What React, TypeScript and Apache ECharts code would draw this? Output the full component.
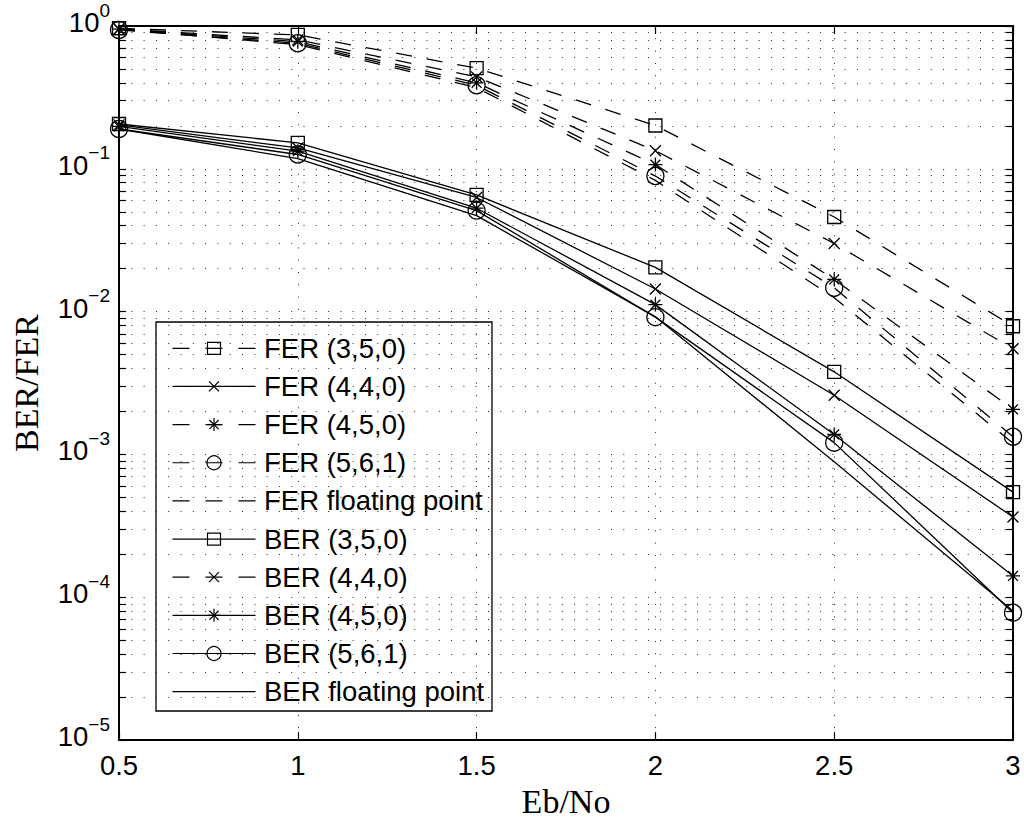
import React, { useEffect, useRef } from "react";
import * as echarts from "echarts";

// ---- data ----
const ebNo = [0.5, 1, 1.5, 2, 2.5, 3];
const ferQ350 = [0.964, 0.866, 0.507, 0.201, 0.046, 0.0079];
const ferQ440 = [0.955, 0.8, 0.44, 0.134, 0.03, 0.0055];
const ferQ450 = [0.95, 0.777, 0.4, 0.107, 0.0168, 0.00207];
const ferQ561 = [0.938, 0.757, 0.385, 0.089, 0.0147, 0.00133];
const ferFloat = [0.95, 0.74, 0.37, 0.083, 0.0125, 0.0012];
const berQ350 = [0.206, 0.152, 0.0656, 0.0204, 0.00379, 0.000545];
const berQ440 = [0.203, 0.14, 0.063, 0.0144, 0.0026, 0.000365];
const berQ450 = [0.198, 0.133, 0.053, 0.0112, 0.00138, 0.000141];
const berQ561 = [0.19, 0.126, 0.051, 0.00915, 0.00121, 0.000078];
const berFloat = [0.19, 0.118, 0.047, 0.0092, 0.00089, 0.00008];

const seriesNames = [
  "FER (3,5,0)",
  "FER (4,4,0)",
  "FER (4,5,0)",
  "FER (5,6,1)",
  "FER floating point",
  "BER (3,5,0)",
  "BER (4,4,0)",
  "BER (4,5,0)",
  "BER (5,6,1)",
  "BER floating point",
];
const seriesValues = [ferQ350, ferQ440, ferQ450, ferQ561, ferFloat, berQ350, berQ440, berQ450, berQ561, berFloat];
const seriesMarkers = ["square", "cross", "star", "circle", "none", "square", "cross", "star", "circle", "none"];
const plotDashed = [true, true, true, true, true, false, false, false, false, false];
const legendDashed = [true, false, true, true, true, false, true, false, false, false];

const xTicks = [0.5, 1, 1.5, 2, 2.5, 3];
const yDecadeExps = [-5, -4, -3, -2, -1, 0];
const yMinorMultipliers = [1, 2, 3, 4, 5, 6, 7, 8, 9];

// ---- styling helpers ----
const BLACK = "#000";
const SANS = '"Liberation Sans", Arial, Helvetica, sans-serif';
const SERIF = '"Liberation Serif", "Times New Roman", serif';
const FONT_SIZE = 27.5;
const DOTTED = [1, 11.3];
const PLOT_DASH = [16, 15];
const LEGEND_DASH = [17, 16];

const symbolFor: Record<string, { symbol: string; size: number }> = {
  square: { symbol: "rect", size: 13 },
  cross: { symbol: "path://M0 0L10 10M10 0L0 10", size: 11 },
  star: { symbol: "path://M5 0L5 10M0 5L10 5M1.5 1.5L8.5 8.5M8.5 1.5L1.5 8.5", size: 14 },
  circle: { symbol: "circle", size: 17 },
  none: { symbol: "none", size: 0 },
};

// log positions of all decade + minor grid values (for the grid/tick axis)
const logGridValues: number[] = [];
for (const e of yDecadeExps) {
  if (e === 0) {
    logGridValues.push(0);
    continue;
  }
  for (const m of yMinorMultipliers) logGridValues.push(Math.log10(m * Math.pow(10, e)));
}

function markerGraphic(kind: string, cx: number, cy: number): any[] {
  const st = { fill: "none", stroke: BLACK, lineWidth: 1.2 };
  if (kind === "square") {
    return [{ type: "rect", shape: { x: cx - 6.5, y: cy - 6, width: 13, height: 12 }, style: st }];
  }
  if (kind === "circle") {
    return [{ type: "circle", shape: { cx, cy, r: 7 }, style: st }];
  }
  if (kind === "cross") {
    return [
      { type: "line", shape: { x1: cx - 5, y1: cy - 5, x2: cx + 5, y2: cy + 5 }, style: st },
      { type: "line", shape: { x1: cx + 5, y1: cy - 5, x2: cx - 5, y2: cy + 5 }, style: st },
    ];
  }
  if (kind === "star") {
    return [
      { type: "line", shape: { x1: cx, y1: cy - 6.5, x2: cx, y2: cy + 6.5 }, style: st },
      { type: "line", shape: { x1: cx - 6.5, y1: cy, x2: cx + 6.5, y2: cy }, style: st },
      { type: "line", shape: { x1: cx - 4.6, y1: cy - 4.6, x2: cx + 4.6, y2: cy + 4.6 }, style: st },
      { type: "line", shape: { x1: cx + 4.6, y1: cy - 4.6, x2: cx - 4.6, y2: cy + 4.6 }, style: st },
    ];
  }
  return [];
}

function buildLegend(): any[] {
  const boxX = 156;
  const boxY = 322;
  const boxW = 336;
  const boxH = 389;
  const rowY0 = 348.3;
  const rowStep = 38.15;
  const lineX1 = 172.5;
  const lineX2 = 255.5;
  const markX = 214;
  const textX = 264;
  const children: any[] = [
    {
      type: "rect",
      shape: { x: boxX, y: boxY, width: boxW, height: boxH },
      style: { fill: "#fff", stroke: BLACK, lineWidth: 1.3 },
    },
  ];
  seriesNames.forEach((name, i) => {
    const y = rowY0 + i * rowStep;
    children.push({
      type: "line",
      shape: { x1: lineX1, y1: y, x2: lineX2, y2: y },
      style: {
        stroke: BLACK,
        lineWidth: 1.2,
        lineDash: legendDashed[i] ? LEGEND_DASH : null,
      },
    });
    markerGraphic(seriesMarkers[i], markX, y).forEach((m) => children.push(m));
    children.push({
      type: "text",
      style: {
        text: name,
        x: textX,
        y,
        fill: BLACK,
        font: `${FONT_SIZE}px ${SANS}`,
        verticalAlign: "middle",
        align: "left",
      },
    });
  });
  return [{ type: "group", z: 100, children }];
}

function yLabel(v: number): string {
  const e = Math.round(Math.log10(v));
  const es = e < 0 ? "\u2212" + String(-e) : String(e);
  return `{b|10}{e|${es}}`;
}

export default function App() {
  const ref = useRef<HTMLDivElement>(null);

  useEffect(() => {
    if (!ref.current) return;
    const chart = echarts.init(ref.current, null, { renderer: "svg" });

    const axisLineStyle = { color: BLACK, width: 2 };
    const tickStyle = { color: BLACK, width: 1.2 };

    const series: any[] = seriesNames.map((name, i) => {
      const sym = symbolFor[seriesMarkers[i]];
      return {
        name,
        type: "line",
        xAxisIndex: 0,
        yAxisIndex: 0,
        data: ebNo.map((x, j) => [x, seriesValues[i][j]]),
        symbol: sym.symbol,
        symbolSize: sym.size,
        showSymbol: sym.symbol !== "none",
        showAllSymbol: true,
        clip: false,
        silent: true,
        z: 5,
        lineStyle: {
          color: BLACK,
          width: 1.3,
          type: plotDashed[i] ? PLOT_DASH : "solid",
        },
        itemStyle: {
          color: "rgba(0,0,0,0)",
          borderColor: BLACK,
          borderWidth: 1.3,
        },
        emphasis: { disabled: true },
      };
    });

    const option: any = {
      animation: false,
      backgroundColor: "#fff",
      grid: { left: 119, right: 11, top: 26, bottom: 80, containLabel: false },
      xAxis: [
        {
          type: "value",
          position: "bottom",
          min: 0.5,
          max: 3,
          interval: 0.5,
          axisLine: { show: true, onZero: false, lineStyle: axisLineStyle },
          axisTick: { show: true, inside: true, length: 8, lineStyle: tickStyle },
          axisLabel: {
            show: true,
            color: BLACK,
            fontFamily: SANS,
            fontSize: FONT_SIZE,
            margin: 11,
            showMinLabel: true,
            showMaxLabel: true,
            formatter: (v: number) => (xTicks.includes(v) ? String(v) : ""),
          },
          splitLine: { show: true, lineStyle: { color: "#222", width: 1, type: DOTTED } },
          name: "Eb/No",
          nameLocation: "middle",
          nameGap: 40,
          nameTextStyle: { color: BLACK, fontFamily: SERIF, fontSize: 34 },
        },
        {
          type: "value",
          position: "top",
          min: 0.5,
          max: 3,
          interval: 0.5,
          axisLine: { show: true, onZero: false, lineStyle: axisLineStyle },
          axisTick: { show: true, inside: true, length: 8, lineStyle: tickStyle },
          axisLabel: { show: false },
          splitLine: { show: false },
        },
      ],
      yAxis: [
        {
          type: "log",
          logBase: 10,
          position: "left",
          min: 1e-5,
          max: 1,
          axisLine: { show: true, onZero: false, lineStyle: axisLineStyle },
          axisTick: { show: false },
          splitLine: { show: false },
          minorTick: { show: false },
          axisLabel: {
            show: true,
            margin: 9,
            color: BLACK,
            padding: [0, 0, 6, 0],
            formatter: yLabel,
            rich: {
              b: { fontFamily: SANS, fontSize: FONT_SIZE, lineHeight: 27, color: BLACK, verticalAlign: "bottom" },
              e: {
                fontFamily: SANS,
                fontSize: 19,
                lineHeight: 19,
                color: BLACK,
                verticalAlign: "bottom",
                padding: [0, 0, 17, 0],
              },
            },
          },
          name: "BER/FER",
          nameLocation: "middle",
          nameGap: 76,
          nameTextStyle: { color: BLACK, fontFamily: SERIF, fontSize: 34 },
        },
        {
          type: "value",
          position: "left",
          min: -5,
          max: 0,
          axisLine: { show: false },
          axisTick: { show: true, inside: true, length: 7, lineStyle: tickStyle, customValues: logGridValues },
          axisLabel: { show: false },
          splitLine: { show: true, lineStyle: { color: "#222", width: 1, type: DOTTED } },
        },
        {
          type: "value",
          position: "right",
          min: -5,
          max: 0,
          axisLine: { show: true, onZero: false, lineStyle: axisLineStyle },
          axisTick: { show: true, inside: true, length: 7, lineStyle: tickStyle, customValues: logGridValues },
          axisLabel: { show: false },
          splitLine: { show: false },
        },
      ],
      series,
      graphic: buildLegend(),
    };

    chart.setOption(option);
    return () => chart.dispose();
  }, []);

  return (
    <div
      ref={ref}
      style={{ position: "fixed", left: 0, top: 0, width: 1024, height: 823, background: "#fff" }}
    />
  );
}
